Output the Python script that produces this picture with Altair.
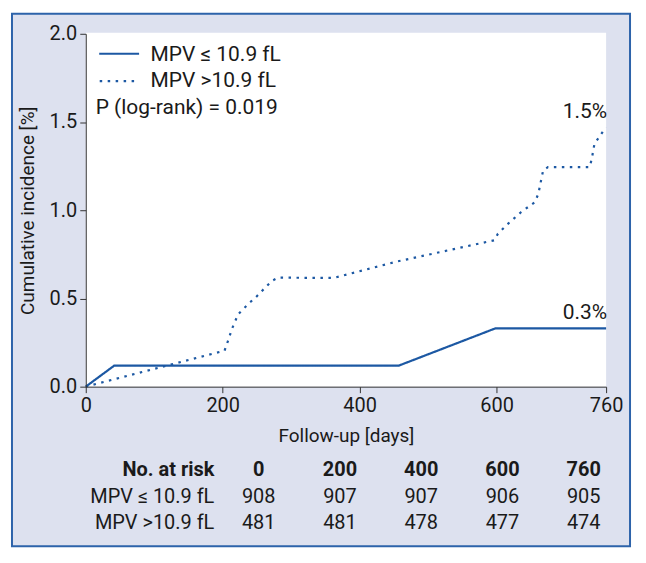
import altair as alt
import pandas as pd

# ---------------- data ----------------
groups = ["MPV ≤ 10.9 fL", "MPV >10.9 fL"]

days_low = [0, 41.5, 457, 598, 760]
inc_low = [0, 0.119, 0.119, 0.33, 0.33]

days_high = [0, 202.7, 206.5, 213.8, 222.5, 239, 248, 264, 272, 281, 362, 374, 452,
             597, 602, 617, 636, 656, 661, 668, 675, 736, 739, 743, 756, 760]
inc_high = [0, 0.204, 0.245, 0.33, 0.41, 0.475, 0.505, 0.569, 0.60, 0.618, 0.616, 0.628, 0.707,
            0.83, 0.867, 0.924, 0.99, 1.046, 1.093, 1.225, 1.244, 1.244, 1.29, 1.376, 1.45, 1.47]

end_labels = ["0.3%", "1.5%"]
p_text = "P (log-rank) = 0.019"

x_ticks = [0, 200, 400, 600, 760]
y_ticks = [0, 0.5, 1.0, 1.5, 2.0]

risk_header = "No. at risk"
risk_times = ["0", "200", "400", "600", "760"]
risk_low = [908, 907, 907, 906, 905]
risk_high = [481, 481, 478, 477, 474]

# ---------------- style ----------------
FONT = "Roboto"
BLUE = "#1c58a3"
BORDER = "#2d63aa"
BG = "#dde1ef"
TXT = "#1a1a1a"
FS = 20
FL = 21
W, H = 522, 354
DOTS = [2.5, 5.5]

# ---------------- frames ----------------
lines_df = pd.concat([
    pd.DataFrame({"day": days_low, "inc": inc_low, "group": groups[0]}),
    pd.DataFrame({"day": days_high, "inc": inc_high, "group": groups[1]}),
], ignore_index=True)

end_df = pd.DataFrame({"day": [days_low[-1], days_high[-1]],
                       "inc": [inc_low[-1], inc_high[-1]],
                       "label": end_labels})

head_df = pd.DataFrame([{"ci": i + 1, "ri": 0, "t": t} for i, t in enumerate(risk_times)])
body_df = pd.DataFrame([{"ci": i + 1, "ri": 1, "t": str(v)} for i, v in enumerate(risk_low)] +
                       [{"ci": i + 1, "ri": 2, "t": str(v)} for i, v in enumerate(risk_high)])
label_df = pd.DataFrame([{"ri": 1, "t": groups[0]}, {"ri": 2, "t": groups[1]}])
header_df = pd.DataFrame([{"ri": 0, "t": risk_header}])

one = alt.Data(values=[{"k": 1}])

# ---------------- decoration ----------------
bg = alt.Chart(one).mark_rect(fill=BG, stroke=BORDER, strokeWidth=2).encode(
    x=alt.value(-74), x2=alt.value(546), y=alt.value(-20), y2=alt.value(514))
white = alt.Chart(one).mark_rect(fill="white").encode(
    x=alt.value(0), x2=alt.value(W), y=alt.value(-1), y2=alt.value(H))

# ---------------- curves ----------------
xs = alt.Scale(domain=[0, 760], nice=False, zero=False)
ys = alt.Scale(domain=[0, 2], nice=False)

lines = alt.Chart(lines_df).mark_line(color=BLUE, strokeWidth=2.2, interpolate="linear").encode(
    x=alt.X("day:Q", scale=xs, axis=alt.Axis(
        values=x_ticks, title="Follow-up [days]", labelFontSize=20, titleFontSize=19,
        titleFontWeight="normal", tickSize=6, labelPadding=3, titlePadding=11,
        domainColor="#333", tickColor="#333", labelColor=TXT, titleColor=TXT,
        grid=False, zindex=2, labelFlush=False)),
    y=alt.Y("inc:Q", scale=ys, axis=alt.Axis(
        values=y_ticks, format=".1f", title="Cumulative incidence [%]", labelFontSize=20,
        titleFontSize=19, titleFontWeight="normal", tickSize=6, labelPadding=3, titlePadding=12,
        domainColor="#333", tickColor="#333", labelColor=TXT, titleColor=TXT,
        grid=False, zindex=2)),
    strokeDash=alt.StrokeDash("group:N", scale=alt.Scale(domain=groups, range=[[1, 0], DOTS]),
                              legend=None),
    order=alt.Order("day:Q"),
)

ends = alt.Chart(end_df).mark_text(align="right", baseline="middle", dy=-15, dx=1,
                                   fontSize=FL, color=TXT).encode(
    x=alt.X("day:Q", scale=xs), y=alt.Y("inc:Q", scale=ys), text="label:N")

curves = alt.layer(lines, ends)

# ---------------- legend (drawn) ----------------
leg_solid = alt.Chart(one).mark_rule(color=BLUE, strokeWidth=2.2).encode(
    x=alt.value(13.5), x2=alt.value(53.5), y=alt.value(20))
leg_dot = alt.Chart(one).mark_rule(color=BLUE, strokeWidth=2.2, strokeDash=DOTS).encode(
    x=alt.value(14), x2=alt.value(54), y=alt.value(47.5))
leg_t1 = alt.Chart(one).mark_text(align="left", baseline="middle", fontSize=FL, color=TXT).encode(
    x=alt.value(65), y=alt.value(21), text=alt.value(groups[0]))
leg_t2 = alt.Chart(one).mark_text(align="left", baseline="middle", fontSize=FL, color=TXT).encode(
    x=alt.value(65), y=alt.value(47.5), text=alt.value(groups[1]))
ptext = alt.Chart(one).mark_text(align="left", baseline="middle", fontSize=FL, color=TXT).encode(
    x=alt.value(10), y=alt.value(74.5), text=alt.value(p_text))

# ---------------- risk table ----------------
tx = alt.Scale(domain=[1, 5], range=[173.5, 499.5])
ty = alt.Scale(domain=[0, 2], range=[438, 491])

t_head = alt.Chart(head_df).mark_text(fontSize=FS, fontWeight="bold", color=TXT, baseline="middle").encode(
    x=alt.X("ci:Q", scale=tx, axis=None), y=alt.Y("ri:Q", scale=ty, axis=None), text="t:N")
t_body = alt.Chart(body_df).mark_text(fontSize=FS, color=TXT, baseline="middle").encode(
    x=alt.X("ci:Q", scale=tx, axis=None), y=alt.Y("ri:Q", scale=ty, axis=None), text="t:N")
t_lab_b = alt.Chart(header_df).mark_text(
    fontSize=FS, fontWeight="bold", color=TXT, align="right", baseline="middle").encode(
    x=alt.value(129), y=alt.Y("ri:Q", scale=ty, axis=None), text="t:N")
t_lab_n = alt.Chart(label_df).mark_text(
    fontSize=FS, color=TXT, align="right", baseline="middle").encode(
    x=alt.value(129), y=alt.Y("ri:Q", scale=ty, axis=None), text="t:N")

table = alt.layer(t_head, t_body, t_lab_b, t_lab_n)

chart = alt.layer(bg, white, curves, leg_solid, leg_dot, leg_t1, leg_t2, ptext, table).resolve_scale(
    x="independent", y="independent"
).properties(
    width=W, height=H,
    padding={"left": 78, "top": 25, "right": 32, "bottom": 168},
    autosize=alt.AutoSizeParams(type="none"),
    background="white",
).configure(font=FONT).configure_view(stroke=None)

chart.save("out.html", embed_options={"renderer": "svg", "actions": False})
